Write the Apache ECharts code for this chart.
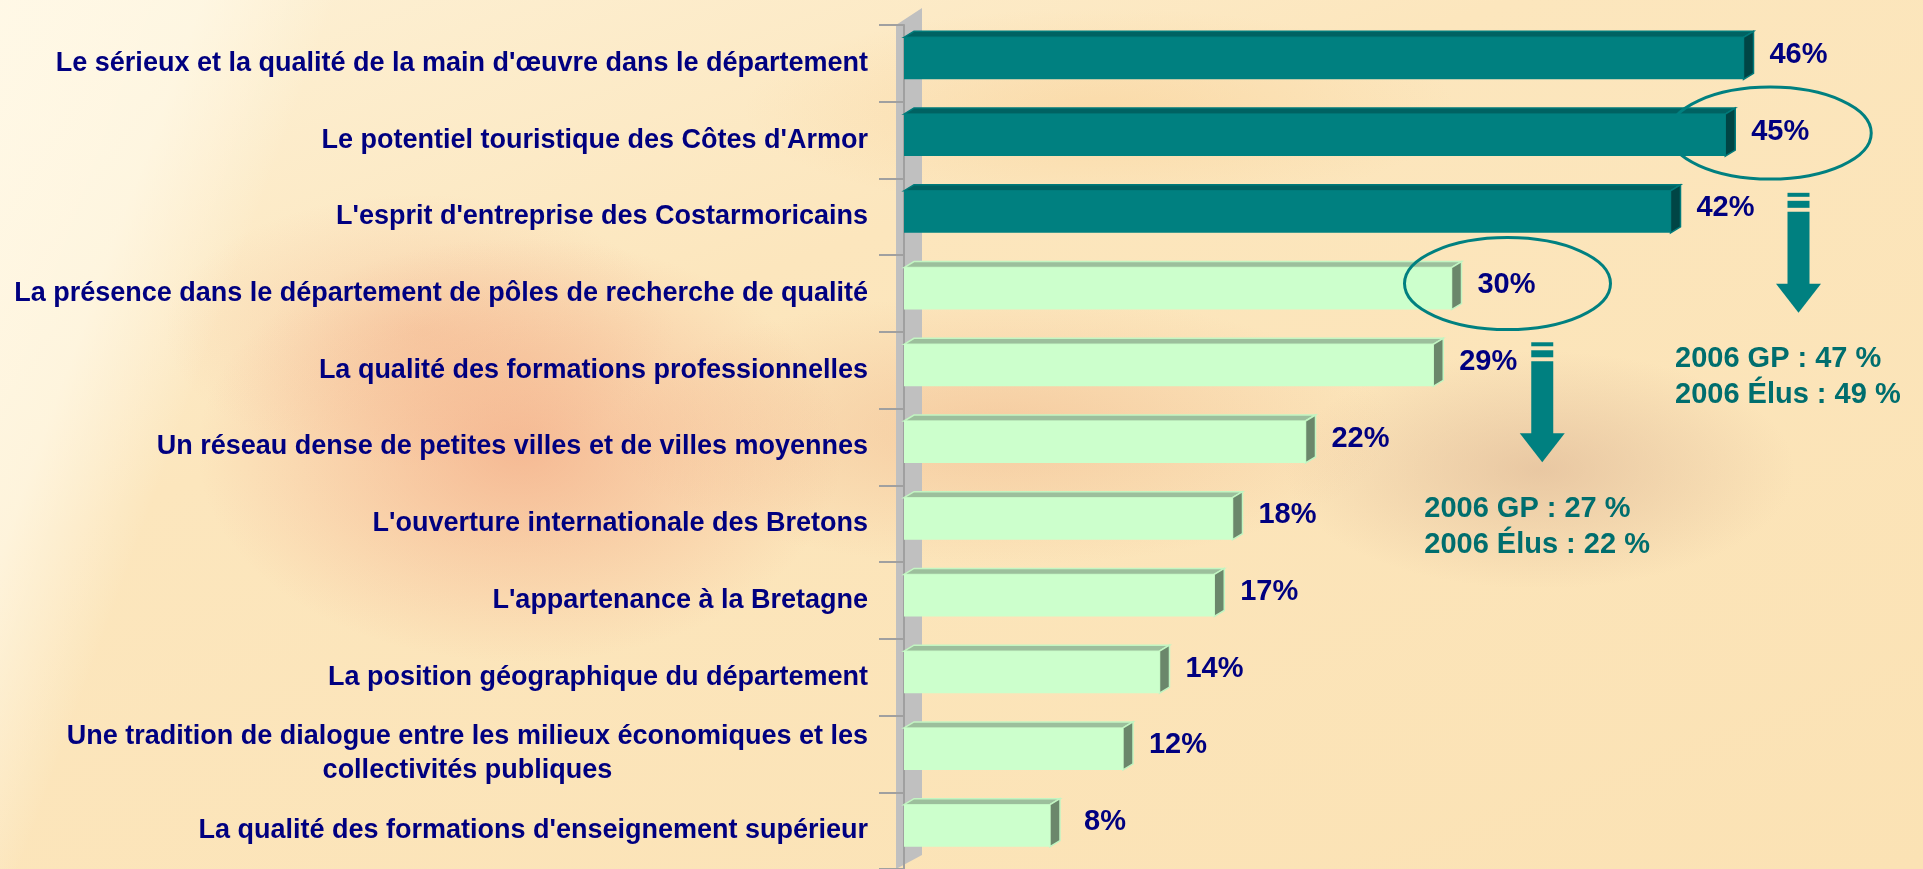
<!DOCTYPE html>
<html>
<head>
<meta charset="utf-8">
<script src="https://cdn.jsdelivr.net/npm/echarts@6/dist/echarts.min.js"></script>
<style>
  html, body { margin: 0; padding: 0; }
  #main {
    width: 1923px;
    height: 869px;
    background:
      radial-gradient(ellipse 380px 250px at 520px 450px, rgba(240, 150, 115, 0.55), rgba(240, 150, 115, 0) 85%),
      radial-gradient(ellipse 300px 160px at 420px 330px, rgba(240, 160, 120, 0.3), rgba(240, 160, 120, 0) 85%),
      radial-gradient(ellipse 460px 160px at 1000px 430px, rgba(235, 165, 120, 0.4), rgba(235, 165, 120, 0) 85%),
      radial-gradient(ellipse 300px 140px at 1540px 470px, rgba(210, 165, 135, 0.45), rgba(210, 165, 135, 0) 85%),
      radial-gradient(ellipse 420px 120px at 1100px 110px, rgba(245, 190, 120, 0.3), rgba(245, 190, 120, 0) 85%),
      linear-gradient(110deg, rgba(255, 249, 232, 0.9) 0%, rgba(255, 249, 232, 0.7) 9%, rgba(255, 249, 232, 0) 15%),
      linear-gradient(160deg, #fdf1d6 0%, #fce6bd 35%, #fbe2b4 100%);
  }
</style>
</head>
<body>
<div id="main"></div>
<script>
const categories = [
  "Le sérieux et la qualité de la main d'œuvre dans le département",
  "Le potentiel touristique des Côtes d'Armor",
  "L'esprit d'entreprise des Costarmoricains",
  "La présence dans le département de pôles de recherche de qualité",
  "La qualité des formations professionnelles",
  "Un réseau dense de petites villes et de villes moyennes",
  "L'ouverture internationale des Bretons",
  "L'appartenance à la Bretagne",
  "La position géographique du département",
  "Une tradition de dialogue entre les milieux économiques et les\ncollectivités publiques",
  "La qualité des formations d'enseignement supérieur"
];
const shares = [46, 45, 42, 30, 29, 22, 18, 17, 14, 12, 8];
const tones = ['dark', 'dark', 'dark', 'light', 'light', 'light', 'light', 'light', 'light', 'light', 'light'];
const note2006Top = ['2006 GP : 47 %', '2006 Élus : 49 %'];
const note2006Mid = ['2006 GP : 27 %', '2006 Élus : 22 %'];

const GRID_LEFT = 904;
const GRID_TOP = 25;
const BAND = 77.27;
const palette = {
  dark: { front: '#008080', top: '#006262', side: '#004545', edge: '#007a7a' },
  light: { front: '#ccffcc', top: '#9cbf9c', side: '#6b876b', edge: '#c2f5c2' }
};
const NAVY = '#000080';
const TEAL = '#008080';
const FONT = '"Liberation Sans", Arial, sans-serif';

const chart = echarts.init(document.getElementById('main'));

function renderBar(params, api) {
  const idx = params.dataIndex;
  const v = api.value(0);
  const cat = api.value(1);
  const start = api.coord([0, cat]);
  const end = api.coord([v, cat]);
  const h = 42, dx = 10, dy = -6;
  const cy = start[1] - 5;
  const top = cy - h / 2;
  const c = palette[tones[idx]];
  return {
    type: 'group',
    children: [
      {
        type: 'polygon',
        shape: { points: [[start[0], top], [start[0] + dx, top + dy], [end[0] + dx, top + dy], [end[0], top]] },
        style: { fill: c.top, stroke: c.edge, lineWidth: 1.5 }
      },
      {
        type: 'polygon',
        shape: { points: [[end[0], top], [end[0] + dx, top + dy], [end[0] + dx, top + h + dy], [end[0], top + h]] },
        style: { fill: c.side, stroke: c.edge, lineWidth: 1.5 }
      },
      {
        type: 'rect',
        shape: { x: start[0], y: top, width: end[0] - start[0], height: h },
        style: { fill: c.front }
      },
      {
        type: 'text',
        x: end[0] + 55,
        y: start[1] - 8.5,
        style: {
          text: v + '%',
          fill: NAVY,
          font: 'bold 29px ' + FONT,
          align: 'center',
          verticalAlign: 'middle'
        }
      }
    ]
  };
}

const wall = {
  type: 'polygon',
  z: -1,
  shape: { points: [[GRID_LEFT - 8, GRID_TOP], [GRID_LEFT + 18, GRID_TOP - 17], [GRID_LEFT + 18, 855], [GRID_LEFT - 8, 869]] },
  style: { fill: '#c0c0c0' }
};

chart.setOption({
  backgroundColor: 'transparent',
  animation: false,
  grid: { left: GRID_LEFT, top: GRID_TOP, width: 912.5, height: BAND * categories.length },
  xAxis: {
    type: 'value',
    min: 0,
    max: 50,
    show: false
  },
  yAxis: {
    type: 'category',
    data: categories,
    inverse: true,
    offset: 8,
    axisLine: { show: true, lineStyle: { color: '#a0a0a0', width: 2 } },
    axisTick: { show: true, alignWithLabel: false, length: 25, lineStyle: { color: '#a0a0a0', width: 2 } },
    axisLabel: {
      margin: 28,
      interval: 0,
      formatter: (value) => value.split('\n').map(s => '{c|' + s + '}').join('\n'),
      rich: {
        c: {
          color: NAVY,
          fontFamily: FONT,
          fontWeight: 'bold',
          fontSize: 27,
          lineHeight: 34,
          align: 'center'
        }
      }
    }
  },
  graphic: [wall],
  series: [
    {
      type: 'custom',
      z: 3,
      renderItem: renderBar,
      encode: { x: 0, y: 1 },
      data: shares.map((v, i) => [v, i])
    }
  ]
});

// annotations anchored to the bars they comment on
function px(v, i) { return chart.convertToPixel({ gridIndex: 0 }, [v, i]); }

function arrow(cx, y0) {
  return [
    { type: 'rect', shape: { x: cx - 11, y: y0, width: 22, height: 4 }, style: { fill: TEAL } },
    { type: 'rect', shape: { x: cx - 11, y: y0 + 8, width: 22, height: 7 }, style: { fill: TEAL } },
    { type: 'rect', shape: { x: cx - 11, y: y0 + 19, width: 22, height: 73 }, style: { fill: TEAL } },
    { type: 'polygon', shape: { points: [[cx - 22.5, y0 + 91], [cx + 22.5, y0 + 91], [cx, y0 + 120]] }, style: { fill: TEAL } }
  ];
}

function noteText(lines, x, y) {
  return lines.map((t, k) => ({
    type: 'text',
    x: x,
    y: y + k * 36,
    style: { text: t, fill: '#006e6e', font: 'bold 29px ' + FONT, align: 'left', verticalAlign: 'middle' }
  }));
}

const e1 = px(shares[1], 1);
const e2 = px(shares[3], 3);
const a1 = px(shares[2], 2);
const a2 = px(shares[4], 4);
const a1x = a1[0] + 128, a1y = a1[1] - 24;
const a2x = a2[0] + 109, a2y = a2[1] - 28;
const onTop = o => Object.assign(o, { z: 10 });

chart.setOption({
  graphic: [
    wall,
    onTop({
      type: 'ellipse',
      shape: { cx: e1[0] + 45, cy: e1[1] - 7, rx: 101, ry: 46 },
      style: { fill: 'none', stroke: TEAL, lineWidth: 3 }
    }),
    onTop({
      type: 'ellipse',
      shape: { cx: e2[0] + 56, cy: e2[1] - 10, rx: 103, ry: 46 },
      style: { fill: 'none', stroke: TEAL, lineWidth: 3 }
    }),
    ...arrow(a1x, a1y).map(onTop),
    ...arrow(a2x, a2y).map(onTop),
    ...noteText(note2006Top, a1x - 123.5, a1y + 166).map(onTop),
    ...noteText(note2006Mid, a2x - 118, a2y + 167).map(onTop)
  ]
});
</script>
</body>
</html>
